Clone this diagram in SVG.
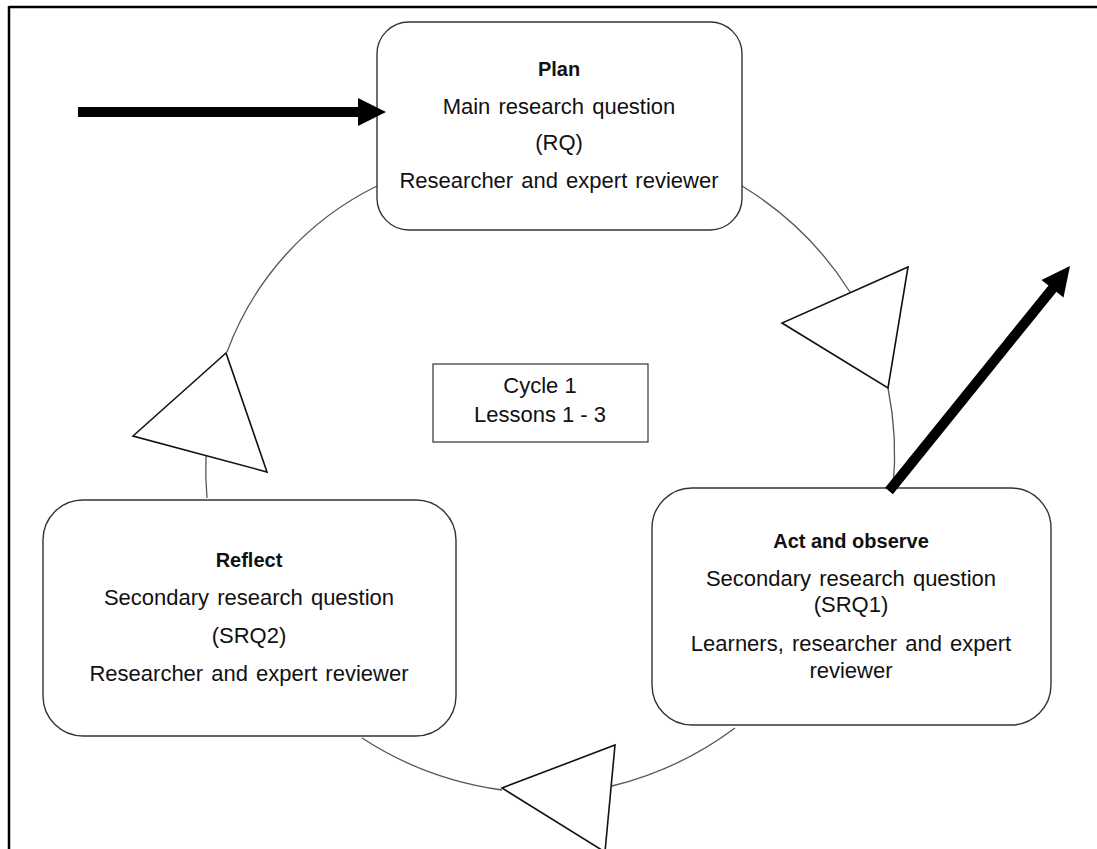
<svg xmlns="http://www.w3.org/2000/svg" width="1097" height="849" viewBox="0 0 1097 849">
<style>
.frame{stroke:#000;stroke-width:2.5;fill:none}
.arc{stroke:#555;stroke-width:1.3;fill:none}
.tri{stroke:#111;stroke-width:1.6;fill:#fff;stroke-linejoin:miter}
.box{stroke:#333;stroke-width:1.4;fill:#fff}
.cbox{stroke:#333;stroke-width:1.2;fill:#fff}
.t{font-family:"Liberation Sans",Arial,sans-serif;font-size:22px;fill:#111;text-anchor:middle;word-spacing:2px}
.b{font-family:"Liberation Sans",Arial,sans-serif;font-size:20px;font-weight:bold;fill:#111;text-anchor:middle}
.c{font-family:"Liberation Sans",Arial,sans-serif;font-size:22px;fill:#111;text-anchor:middle}
.thick{stroke:#000;stroke-width:10;fill:none}
</style>
<rect width="1097" height="849" fill="#fff"/>
<g id="frame">
<line class="frame" x1="9" y1="7" x2="1097" y2="7"/>
<line class="frame" x1="9" y1="6" x2="9" y2="849"/>
</g>
<g id="connectors">
<path class="arc" d="M377,186 A300,300 0 0 0 227,352"/>
<path class="arc" d="M206,456 A340,340 0 0 0 207,498"/>
<path class="arc" d="M362,738 A340,340 0 0 0 502,790"/>
<path class="arc" d="M612,786 A340,340 0 0 0 735,728"/>
<path class="arc" d="M742,186 A330,330 0 0 1 850,292"/>
<path class="arc" d="M888,388 A340,340 0 0 1 893,488"/>
<polygon class="tri" points="226,353 133,436 267,472"/>
<polygon class="tri" points="908,267 782,323 888,388"/>
<polygon class="tri" points="502,788 615,745 605,852"/>
</g>
<g id="plan">
<rect class="box" x="377" y="22" width="365" height="208" rx="32"/>
<text class="b" x="559" y="76">Plan</text>
<text class="t" x="559" y="114">Main research question</text>
<text class="t" x="559" y="150">(RQ)</text>
<text class="t" x="559" y="188">Researcher and expert reviewer</text>
</g>
<g id="act">
<rect class="box" x="652" y="488" width="399" height="237" rx="40"/>
<text class="b" x="851" y="548">Act and observe</text>
<text class="t" x="851" y="586">Secondary research question</text>
<text class="t" x="851" y="612">(SRQ1)</text>
<text class="t" x="851" y="651">Learners, researcher and expert</text>
<text class="t" x="851" y="678">reviewer</text>
</g>
<g id="reflect">
<rect class="box" x="43" y="500" width="413" height="236" rx="40"/>
<text class="b" x="249" y="567">Reflect</text>
<text class="t" x="249" y="605">Secondary research question</text>
<text class="t" x="249" y="643">(SRQ2)</text>
<text class="t" x="249" y="681">Researcher and expert reviewer</text>
</g>
<g id="cycle">
<rect class="cbox" x="433" y="364" width="215" height="78"/>
<text class="c" x="540" y="393">Cycle 1</text>
<text class="c" x="540" y="422">Lessons 1 - 3</text>
</g>
<g id="arrows">
<line class="thick" x1="78" y1="112" x2="360" y2="112"/>
<polygon points="358,98 386,112 358,126" fill="#000"/>
<line class="thick" x1="889" y1="491" x2="1053" y2="288"/>
<polygon points="1070,266 1063.5,297.5 1041.5,280" fill="#000"/>
</g>
</svg>
